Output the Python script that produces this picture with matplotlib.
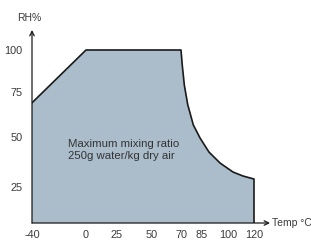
import numpy as np
import matplotlib
matplotlib.use("Agg")
import matplotlib.pyplot as plt

plt.rcParams['font.family'] = ['Liberation Sans', 'DejaVu Sans']

# Boundary of the operating region (temperature °C, relative humidity %)
temp = [-40, 0, 70, 70.9, 72.4, 74.8, 78.8, 83.6, 89.0, 95.4, 103.8, 111.5, 120]
rh = [69, 100, 100, 91, 79, 68, 56.7, 49.5, 42.5, 37, 32.5, 30.5, 29]

x_ticks = [-40, 0, 25, 50, 70, 85, 100, 120]
y_ticks = [25, 50, 75, 100]

# schematic (non-uniform) axis scales as printed in the original chart
x_vals = [-60, -40, 0, 25, 50, 70, 85, 100, 120, 160]
x_pos = [5, 32, 86, 117, 152, 181, 202, 228, 254, 306]
y_vals = [-20, 0, 25, 50, 75, 100, 140]
y_pos = [-10, 19, 55, 105, 150, 192, 259]


def fx(v):
    return np.interp(v, x_vals, x_pos)


def ix(p):
    return np.interp(p, x_pos, x_vals)


def fy(v):
    return np.interp(v, y_vals, y_pos)


def iy(p):
    return np.interp(p, y_pos, y_vals)


fig = plt.figure(figsize=(3.11, 2.42), dpi=100)
ax = fig.add_axes([32 / 311, 19 / 242, 238 / 311, 193 / 242])
ax.set_xscale('function', functions=(fx, ix))
ax.set_yscale('function', functions=(fy, iy))
ax.set_xlim(-40, ix(270))
ax.set_ylim(0, iy(212))

fill_x = temp + [temp[-1], temp[0]]
fill_y = rh + [0, 0]
ax.fill(fill_x, fill_y, facecolor='#abbdca', edgecolor='none', zorder=1)
ax.plot(temp + [temp[-1]], rh + [0], color='#1a1a1a', lw=1.2, zorder=2,
        solid_joinstyle='round')

for s in ax.spines.values():
    s.set_visible(False)

ax.annotate('', xy=(1, 0), xytext=(0, 0), xycoords='axes fraction',
            arrowprops=dict(arrowstyle='->', lw=0.9, color='#1a1a1a',
                            shrinkA=0, shrinkB=0, mutation_scale=8))
ax.annotate('', xy=(0, 1), xytext=(0, 0), xycoords='axes fraction',
            arrowprops=dict(arrowstyle='->', lw=0.9, color='#1a1a1a',
                            shrinkA=0, shrinkB=0, mutation_scale=8))

ax.set_xticks(x_ticks)
ax.set_xticklabels([str(t) for t in x_ticks])
ax.set_yticks(y_ticks)
ax.set_yticklabels([str(t) for t in y_ticks])
ax.tick_params(length=0, labelsize=7.8, labelcolor='#3a3a3a')
ax.tick_params(axis='x', pad=5)
ax.tick_params(axis='y', pad=7)
ax.minorticks_off()

ax.text(1.01, 0, 'Temp °C', transform=ax.transAxes, ha='left', va='center',
        fontsize=7.5, color='#3a3a3a', clip_on=False)
ax.text(-0.01, 1.062, 'RH%', transform=ax.transAxes, ha='center',
        va='center', fontsize=7.5, color='#3a3a3a', clip_on=False)

ax.text(-13, 43.5, 'Maximum mixing ratio\n250g water/kg dry air',
        ha='left', va='center', fontsize=8.2, color='#333333',
        linespacing=1.3, zorder=3)

fig.savefig('out.png', dpi=100)
